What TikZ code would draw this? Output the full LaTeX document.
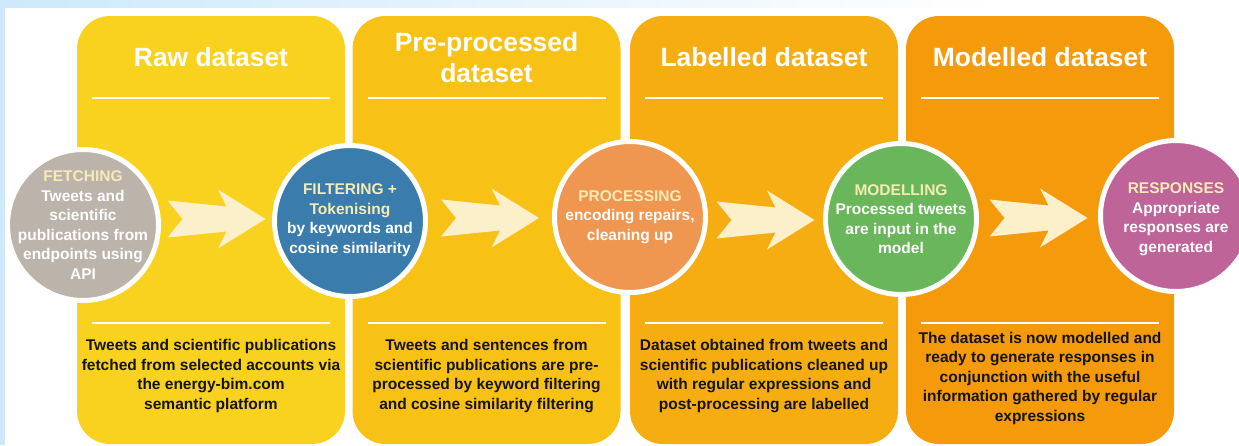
\documentclass[tikz,border=0pt]{standalone}
\usepackage{fontspec}
\setmainfont{Liberation Sans}
\usetikzlibrary{calc}

\definecolor{skyedge}{HTML}{CDE9FB}
\definecolor{rawfill}{HTML}{F9D21F}
\definecolor{prefill}{HTML}{F8C116}
\definecolor{labfill}{HTML}{F6AD12}
\definecolor{modfill}{HTML}{F49A0B}
\definecolor{fetchfill}{HTML}{BCB3AA}
\definecolor{filterfill}{HTML}{3A7CAB}
\definecolor{procfill}{HTML}{EF9651}
\definecolor{modelfill}{HTML}{6AB75B}
\definecolor{respfill}{HTML}{BE6499}
\definecolor{headtint}{HTML}{F6EBB5}
\definecolor{arrowfill}{HTML}{FBF0C9}
\definecolor{bodyink}{HTML}{141414}

\tikzset{
  panel/.style={rounded corners=33pt, inner sep=0pt, outer sep=0pt,
    minimum width=268pt, minimum height=428pt},
  stage/.style={circle, draw=white, line width=5pt, minimum size=151pt, inner sep=0pt},
  paneltitle/.style={text=white, align=center, inner sep=0pt,
    font=\fontsize{26.4}{31}\selectfont\bfseries},
  stagetext/.style={text=white, align=center, inner sep=0pt,
    font=\fontsize{15.5}{19.5}\selectfont\bfseries},
  paneltext/.style={text=bodyink, align=center, inner sep=0pt,
    font=\fontsize{15.5}{19.5}\selectfont\bfseries},
  rule/.style={draw=white, line width=1.6pt},
  flowarrow/.pic={
    \fill[arrowfill] (-49,-18.5) -- (10,-12.5) -- (1.5,-29.5) -- (49,0)
      -- (1.5,29.5) -- (10,12.5) -- (-49,18.5) -- (-34,0) -- cycle;
  }
}
\newcommand{\hd}[1]{\textcolor{headtint}{#1}}

\begin{document}
\begin{tikzpicture}[x=1pt,y=-1pt]
\useasboundingbox (0,0) rectangle (1239,445);

% page background with pale blue frame strips
\fill[white] (0,0) rectangle (1239,445);
\shade[left color=skyedge, right color=white] (0,0) rectangle (1000,7);
\fill[white] (1000,0) rectangle (1239,7);
\fill[skyedge] (0,0) rectangle (5,445);

% dataset panels
\node[panel, fill=rawfill] (p1) at (211,230) {};
\node[panel, fill=prefill] (p2) at (486.5,230) {};
\node[panel, fill=labfill] (p3) at (764,230) {};
\node[panel, fill=modfill] (p4) at (1040,230) {};

% panel titles
\node[paneltitle] (h1) at (211,57) {Raw dataset};
\node[paneltitle] (h2) at (486.5,57.5) {Pre-processed\\dataset};
\node[paneltitle] (h3) at (764,57) {Labelled dataset};
\node[paneltitle] (h4) at (1040,57) {Modelled dataset};

% separator rules in each panel
\foreach \p in {p1,p2,p3,p4}{
  \draw[rule] ($(\p.north west)+(15,82)$) -- ($(\p.north east)+(-15,82)$);
  \draw[rule] ($(\p.north west)+(15,307)$) -- ($(\p.north east)+(-15,307)$);
}

% panel descriptions
\node[paneltext] (d1) at (211,376) {Tweets and scientific publications\\fetched from selected accounts via\\the energy-bim.com\\semantic platform};
\node[paneltext] (d2) at (486.5,376) {Tweets and sentences from\\scientific publications are pre-\\processed by keyword filtering\\and cosine similarity filtering};
\node[paneltext] (d3) at (764,376) {Dataset obtained from tweets and\\scientific publications cleaned up\\with regular expressions and\\post-processing are labelled};
\node[paneltext] (d4) at (1040,378) {The dataset is now modelled and\\ready to generate responses in\\conjunction with the useful\\information gathered by regular\\expressions};

% process stages
\node[stage, fill=fetchfill]  (c1) at (83,225) {};
\node[stage, fill=filterfill] (c2) at (350,221) {};
\node[stage, fill=procfill]   (c3) at (630,217) {};
\node[stage, fill=modelfill]  (c4) at (901,219) {};
\node[stage, fill=respfill]   (c5) at (1176,216) {};

\node[stagetext] (t1) at (c1) {\hd{FETCHING}\\Tweets and\\scientific\\publications from\\endpoints using\\API};
\node[stagetext] (t2) at (350,220) {\hd{FILTERING +}\\\hd{Tokenising}\\by keywords and\\cosine similarity};
\node[stagetext] (t3) at (c3) {\hd{PROCESSING}\\encoding repairs,\\cleaning up};
\node[stagetext] (t4) at (c4) {\hd{MODELLING}\\Processed tweets\\are input in the\\model};
\node[stagetext] (t5) at (1176,219) {\hd{RESPONSES}\\Appropriate\\responses are\\generated};

% arrows between stages
\coordinate (m1) at ($(c1.east)!0.5!(c2.west)$);
\coordinate (m2) at ($(c2.east)!0.5!(c3.west)$);
\coordinate (m3) at ($(c3.east)!0.5!(c4.west)$);
\coordinate (m4) at ($(c4.east)!0.5!(c5.west)$);
\pic at (m1 |- 0,219) {flowarrow};
\pic at (m2 |- 0,218) {flowarrow};
\pic at (m3 |- 0,220) {flowarrow};
\pic at (m4 |- 0,218) {flowarrow};
\end{tikzpicture}
\end{document}
